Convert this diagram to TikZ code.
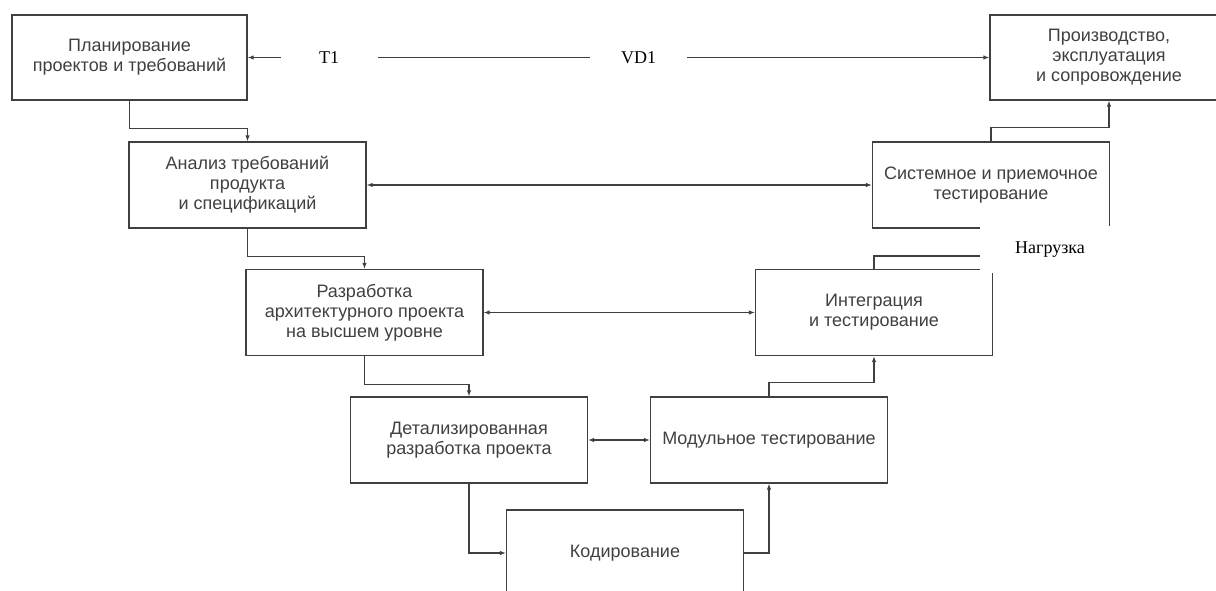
\documentclass[tikz,border=0pt]{standalone}
\usepackage{fontspec}
\setmainfont{Liberation Sans}
\newfontfamily\labelfont{Liberation Serif}
\usetikzlibrary{arrows.meta}
\definecolor{boxgray}{HTML}{404040}
\tikzset{
	stage/.style={draw=boxgray, line width=1.2pt, minimum width=237pt, minimum height=86pt, inner sep=0pt, align=center, text=boxgray, font=\fontsize{18}{20}\selectfont},
	link/.style={draw=boxgray, line width=1.2pt, -{Latex[length=6pt,width=4.5pt]}},
	twoway/.style={link, {Latex[length=6pt,width=4.5pt]}-{Latex[length=6pt,width=4.5pt]}},
	tag/.style={fill=white, inner sep=0pt, minimum width=97pt, minimum height=47pt, text=black, font=\labelfont\fontsize{18}{20}\selectfont}
}

\begin{document}
\begin{tikzpicture}[x=1pt,y=-1pt]
			%%%%% START %%%%%
			\useasboundingbox (0,0) rectangle (1216,591);
			\clip (0,0) rectangle (1216,591);
			
			\node[stage, minimum width=235pt, minimum height=85pt] (plan) at (129.5,57.5) {Планирование\\проектов и требований};
			\node[stage, minimum width=238pt, minimum height=85pt] (prod) at (1109,57.5) {Производство,\\эксплуатация\\и сопровождение};
			
			\node[stage] (anal) at (247.5,185) {Анализ требований\\продукта\\и спецификаций};
			\node[stage] (sys) at (991,185) {Системное и приемочное\\тестирование};
			
			\node[stage] (arch) at (364.5,312.5) {Разработка\\архитектурного проекта\\на высшем уровне};
			\node[stage] (integ) at (874,312.5) {Интеграция\\и тестирование};
			
			\node[stage] (det) at (469,440) {Детализированная\\разработка проекта};
			\node[stage] (mod) at (769,440) {Модульное тестирование};
			
			\node[stage] (code) at (625,553) {Кодирование};
			
			% left branch, going down
			\draw[link] (plan.south) -- ++(0,28) -| (anal.north);
			\draw[link] (anal.south) -- ++(0,28) -| (arch.north);
			\draw[link] (arch.south) -- ++(0,28) -| (det.north);
			\draw[link] (det.south) |- (code.west);
			
			% right branch, going up
			\draw[link] (code.east) -| (mod.south);
			\draw[link] (mod.north) -- ++(0,-14) -| (integ.south);
			\draw[link] (integ.north) -- ++(0,-13) -| (sys.south);
			\draw[link] (sys.north) -- ++(0,-14) -| (prod.south);
			
			% across the V
			\draw[twoway] (anal) -- (sys);
			\draw[twoway] (arch) -- (integ);
			\draw[twoway] (det) -- (mod);
			\draw[twoway] (plan) -- node[tag, pos=0.11] (tone) {T1} node[tag, pos=0.527] (vdone) {VD1} (prod);
			
			\node[tag, minimum width=140pt] (load) at (1050,249.5) {Нагрузка};
			
			%%%%% END %%%%%
\end{tikzpicture}
\end{document}
